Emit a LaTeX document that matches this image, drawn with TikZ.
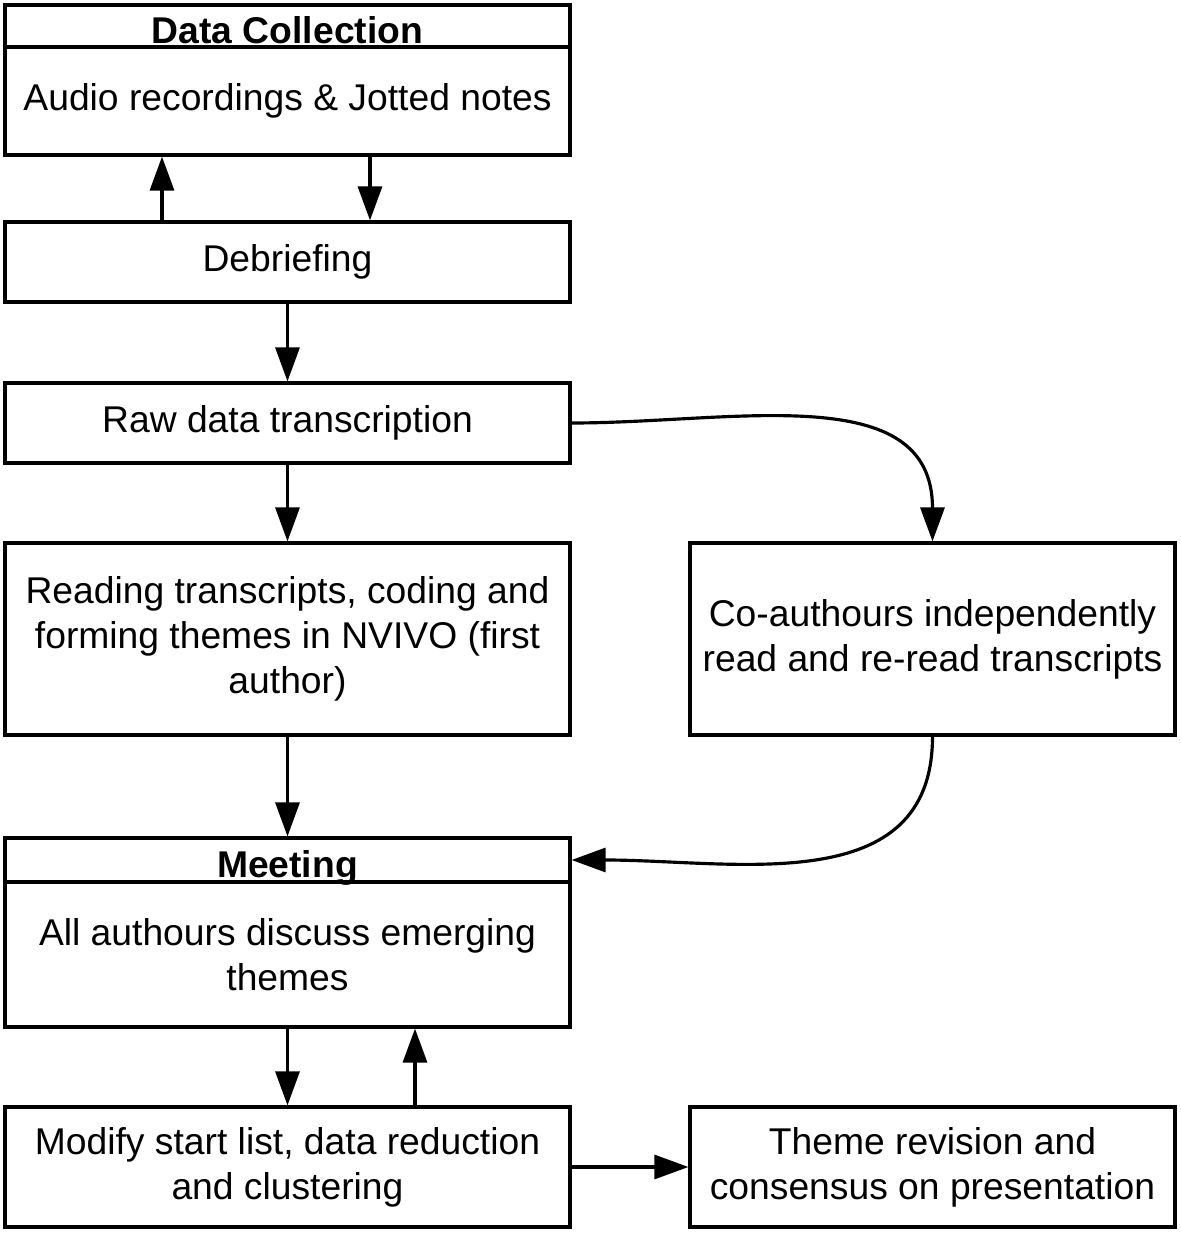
\documentclass[tikz,border=0pt]{standalone}
\usepackage{fontspec}
\setmainfont{Liberation Sans}
\usepackage{tikz}
\usetikzlibrary{arrows.meta,positioning}

\begin{document}
\begin{tikzpicture}[
    font=\fontsize{10.6}{12.8}\selectfont,
    box/.style={draw, minimum width=5.65cm, align=center, line width=0.9pt, inner sep=0pt},
    side/.style={box, minimum width=4.85cm},
    head/.style={box, text height=10.2pt, text depth=0pt, font=\fontsize{10.6}{12.8}\selectfont\bfseries},
    arrow/.style={-{Triangle[length=3.4mm,width=2.4mm]}, line width=0.9pt}
]
\useasboundingbox (0,0) rectangle (11.81,12.34);

\node[head, minimum height=0.42cm] (dchead) at (2.875,12.08) {Data Collection};
\node[box, minimum height=1.08cm] (dc) at (2.875,11.33) {Audio recordings \& Jotted notes};

\node[box, minimum height=0.80cm] (deb) at (2.875,9.72) {Debriefing};
\node[box, minimum height=0.80cm] (raw) at (2.875,8.11) {Raw data transcription};

\node[box, minimum height=1.92cm] (read) at (2.875,5.95) {Reading transcripts, coding and\\forming themes in NVIVO (first\\author)};
\node[side, minimum height=1.92cm] (coauth) at (9.325,5.95) {Co-authours independently\\read and re-read transcripts};

\node[head, minimum height=0.44cm] (meethead) at (2.875,3.74) {Meeting};
\node[box, minimum height=1.45cm] (meet) at (2.875,2.795) {All authours discuss emerging\\themes};

\node[box, minimum height=1.20cm] (modify) at (2.875,0.67) {Modify start list, data reduction\\and clustering};
\node[side, minimum height=1.20cm] (theme) at (9.325,0.67) {Theme revision and\\consensus on presentation};

\draw[arrow] ([xshift=-12.55mm]deb.north) -- ([xshift=-12.55mm]dc.south);
\draw[arrow] ([xshift=8.25mm]dc.south) -- ([xshift=8.25mm]deb.north);
\draw[arrow] (deb.south) -- (raw.north);
\draw[arrow] (raw.south) -- (read.north);
\draw[arrow] (raw.east) to[out=0, in=90, looseness=1.1] (coauth.north);
\draw[arrow] (read.south) -- (meethead.north);
\draw[arrow] (coauth.south) to[out=-90, in=0, looseness=1.1] (meethead.east);
\draw[arrow] (meet.south) -- (modify.north);
\draw[arrow] ([xshift=12.75mm]modify.north) -- ([xshift=12.75mm]meet.south);
\draw[arrow] (modify.east) -- (theme.west);

\end{tikzpicture}
\end{document}
